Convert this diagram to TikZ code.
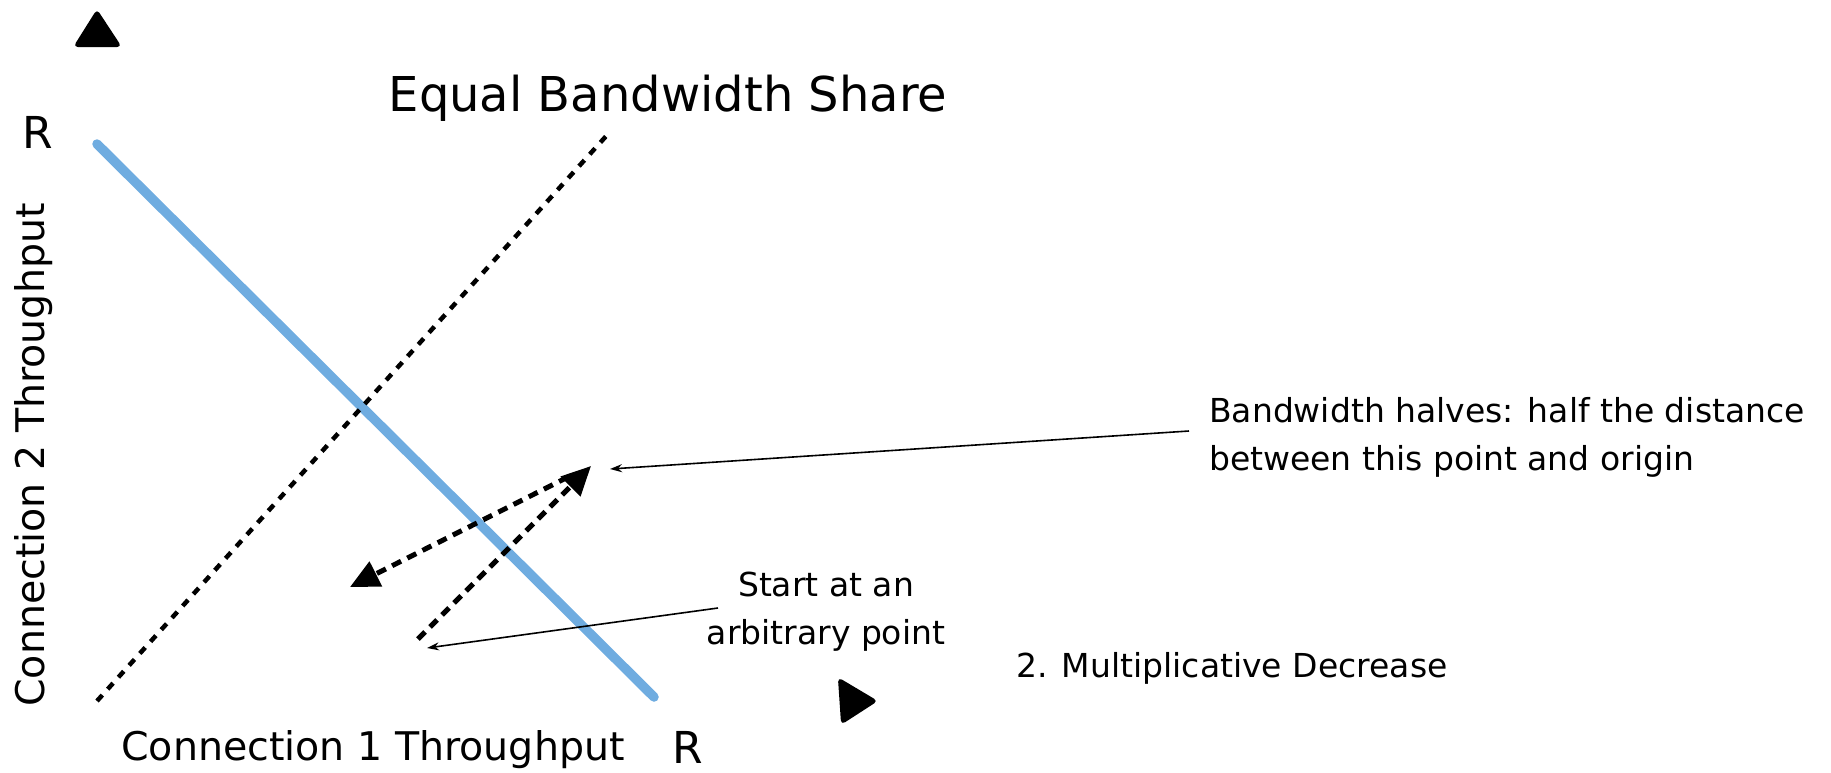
\documentclass[tikz,border=0pt]{standalone}
\usepackage{fontspec}
\setmainfont{DejaVu Sans}
\usetikzlibrary{arrows.meta,decorations.pathmorphing}
\begin{document}
\begin{tikzpicture}[x=1pt,y=-1pt,
  lbl/.style={inner sep=0pt, text=black},
  big/.style={lbl, font=\fontsize{48}{54}\selectfont},
  rlbl/.style={lbl, font=\fontsize{44}{50}\selectfont},
  axislbl/.style={lbl, font=\fontsize{39.5}{45}\selectfont},
  note/.style={lbl, font=\fontsize{33}{48}\selectfont},
  capcolor/.style={color={rgb,255:red,111;green,172;blue,224}},
  capacity/.style={capcolor, line width=9.5pt, line cap=round},
  capedge/.style={capcolor, line width=2pt, decorate,
    decoration={random steps, segment length=3pt, amplitude=1.2pt}},
  fairline/.style={line width=4.5pt, dash pattern=on 8pt off 8pt},
  moveline/.style={line width=5pt, dash pattern=on 10pt off 7pt, -{Triangle[length=29pt,width=27pt]}},
  pointer/.style={line width=1.6pt, -{Stealth[length=12pt,width=8pt]}},
  axistip/.style={fill=black, draw=black, line width=2pt, rounded corners=3pt}
]
\useasboundingbox (0,0) rectangle (1831,772);

% axis arrow tips
\filldraw[axistip] (97,11) -- (75,46) -- (120,46) -- cycle;
\filldraw[axistip] (839,679) -- (876,701) -- (842,723) -- cycle;

% axis labels
\node[rlbl] (rtop) at (38,132) {R};
\node[rlbl] (rright) at (688,747) {R};
\node[axislbl, rotate=90] (ylab) at (34,455) {Connection 2 Throughput};
\node[axislbl] (xlab) at (373,750) {Connection 1 Throughput};
\node[big] (fairlab) at (668,98) {Equal Bandwidth Share};

% capacity line (chalky stroke) and equal-share line
\coordinate (capA) at (97,144);
\coordinate (capB) at (654,697);
\draw[capacity] (capA) -- (capB);
\draw[capedge] ([shift={(3pt,-3pt)}]capA) -- ([shift={(3pt,-3pt)}]capB);
\draw[capedge] ([shift={(-3pt,3pt)}]capA) -- ([shift={(-3pt,3pt)}]capB);
\coordinate (fairA) at (97,701);
\coordinate (fairB) at (608,134);
\draw[fairline] (fairA) -- (fairB);

% additive increase then multiplicative decrease
\coordinate (start) at (418,639);
\coordinate (peak) at (591,466);
\coordinate (peakb) at (568,477);
\coordinate (half) at (350,587);
\draw[moveline] (start) -- (peak);
\draw[moveline] (peakb) -- (half);

% notes
\node[note, anchor=west, align=left] (halfnote) at (1209,437)
  {Bandwidth halves: half the distance\\between this point and origin};
\node[note, align=center] (startnote) at (826,612)
  {Start at an\\arbitrary point};
\node[note] (mdlab) at (1232,668) {2. Multiplicative Decrease};

\coordinate (halfsrc) at (1189,431);
\coordinate (halftgt) at (610,469);
\coordinate (startsrc) at (718,608);
\coordinate (starttgt) at (427,648);
\draw[pointer] (halfsrc) -- (halftgt);
\draw[pointer] (startsrc) -- (starttgt);
\end{tikzpicture}
\end{document}
